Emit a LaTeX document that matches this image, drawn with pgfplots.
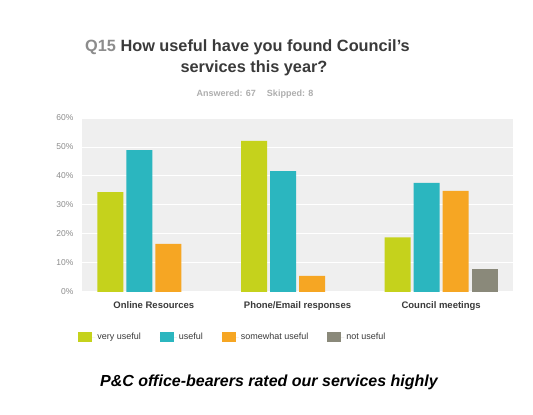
\documentclass[border=0pt]{standalone}
\usepackage{pgfplots}
\pgfplotsset{compat=1.18}
\usepackage{fontspec}
\setmainfont{Liberation Sans}
\definecolor{cvery}{HTML}{C5D21C}
\definecolor{cuse}{HTML}{2BB6BF}
\definecolor{csome}{HTML}{F6A623}
\definecolor{cnot}{HTML}{8A897A}
\definecolor{plotbg}{HTML}{EFEFEF}
\definecolor{titlegray}{HTML}{8C8C8C}
\definecolor{titledark}{HTML}{3A3A3A}
\begin{document}
\begin{tikzpicture}[x=1pt,y=1pt]
\useasboundingbox (0,0) rectangle (533,415);
\fill[white] (0,0) rectangle (533,415);
\begin{axis}[
  at={(82pt,123pt)}, anchor=south west,
  scale only axis, width=431pt, height=174pt,
  xmin=-0.5, xmax=2.5, ymin=0, ymax=60,
  axis background/.style={fill=plotbg},
  axis line style={draw=none},
  ybar, bar width=26pt,
  ymajorgrids, grid style={white, line width=1pt},
  ytick={0,10,...,60},
  yticklabel={\pgfmathprintnumber{\tick}\%},
  /pgf/number format/assume math mode=true,
  yticklabel style={font=\fontsize{8.5}{9}\selectfont, text=titlegray, xshift=-5pt},
  xtick={0,1,2}, xticklabels={Online Resources, Phone/Email responses, Council meetings},
  xticklabel style={font=\bfseries\fontsize{9.5}{10}\selectfont, text=titledark, yshift=-6pt},
  major tick length=0pt,
  legend style={at={(-0.009,-0.26)}, anchor=west, draw=none, fill=none, inner xsep=0pt,
    font=\fontsize{9}{10}\selectfont, text=titledark,
    /tikz/every even column/.append style={column sep=17pt}},
  legend columns=4,
  legend image code/.code={\fill[#1] (0pt,-5pt) rectangle (14pt,5pt); \path (0pt,0pt) -- (17pt,0pt);},
]
\addplot[fill=cvery, draw=none, bar shift=-43.5pt] coordinates {(0,34.4) (1,52.1) (2,18.8)};
\addplot[fill=cuse, draw=none, bar shift=-14.5pt] coordinates {(0,48.9) (1,41.7) (2,37.6)};
\addplot[fill=csome, draw=none, bar shift=14.5pt] coordinates {(0,16.6) (1,5.6) (2,34.9)};
\addplot[fill=cnot, draw=none, bar shift=43.5pt] coordinates {(2,8.0)};
\legend{very useful, useful, somewhat useful, not useful}
\end{axis}
\node[anchor=base west, inner xsep=0pt, font=\bfseries\fontsize{16.3}{18}\selectfont] at (85,363) {\textcolor{titlegray}{Q15} \textcolor{titledark}{How useful have you found Council's}};
\node[anchor=base, font=\bfseries\fontsize{16.3}{18}\selectfont, text=titledark] at (254,342) {services this year?};
\node[anchor=base, font=\bfseries\fontsize{9}{10}\selectfont, text=titlegray!70] at (255,318) {Answered: 67\hspace{11pt}Skipped: 8};
\node[anchor=base west, inner xsep=0pt, font=\bfseries\itshape\fontsize{16}{18}\selectfont] at (100,28) {P\&C office-bearers rated our services highly};
\end{tikzpicture}
\end{document}
